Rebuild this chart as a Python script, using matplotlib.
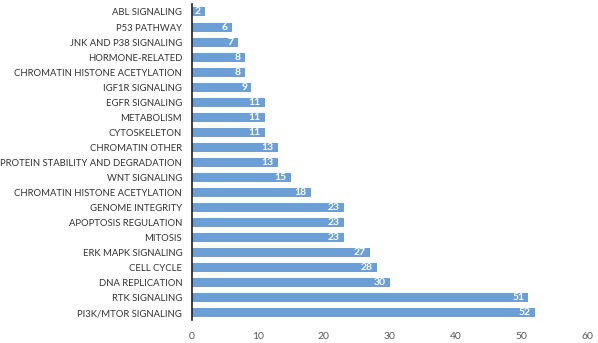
import matplotlib
matplotlib.use("Agg")
import matplotlib.pyplot as plt
import numpy as np

categories = [
    "ABL SIGNALING", "P53 PATHWAY", "JNK AND P38 SIGNALING", "HORMONE-RELATED",
    "CHROMATIN HISTONE ACETYLATION", "IGF1R SIGNALING", "EGFR SIGNALING",
    "METABOLISM", "CYTOSKELETON", "CHROMATIN OTHER",
    "PROTEIN STABILITY AND DEGRADATION", "WNT SIGNALING",
    "CHROMATIN HISTONE ACETYLATION", "GENOME INTEGRITY", "APOPTOSIS REGULATION",
    "MITOSIS", "ERK MAPK SIGNALING", "CELL CYCLE", "DNA REPLICATION",
    "RTK SIGNALING", "PI3K/MTOR SIGNALING",
]
values = [2, 6, 7, 8, 8, 9, 11, 11, 11, 13, 13, 15, 18, 23, 23, 23, 27, 28, 30, 51, 52]
xticks = [0, 10, 20, 30, 40, 50, 60]

plt.rcParams['font.family'] = ['Lato', 'DejaVu Sans']

fig = plt.figure(figsize=(5.98, 3.43), dpi=100)
ax = fig.add_axes([0.321, 0.0656, 0.662, 0.9214])

pos = np.arange(len(categories))
bars = ax.barh(pos, values, height=0.6, color='#6b9fd6')
ax.set_ylim(len(categories) - 0.5, -0.5)
ax.set_xlim(0, 60)
ax.set_yticks(pos)
ax.set_yticklabels(categories, fontsize=6.8, color='#333333')
ax.set_xticks(xticks)
ax.set_xticklabels([str(t) for t in xticks], fontsize=7.5, color='#595959')
ax.tick_params(axis='y', length=0, pad=7)
ax.tick_params(axis='x', length=0, pad=8)

for s in ['top', 'right', 'bottom']:
    ax.spines[s].set_visible(False)
ax.spines['left'].set_color('#222222')
ax.spines['left'].set_linewidth(1.2)

for p, v in zip(pos, values):
    ax.annotate(str(v), xy=(v, p), xytext=(-3, 0), textcoords='offset points',
                ha='right', va='center', color='white', fontsize=7.5, fontweight='bold')

fig.savefig("out.png", dpi=100)
